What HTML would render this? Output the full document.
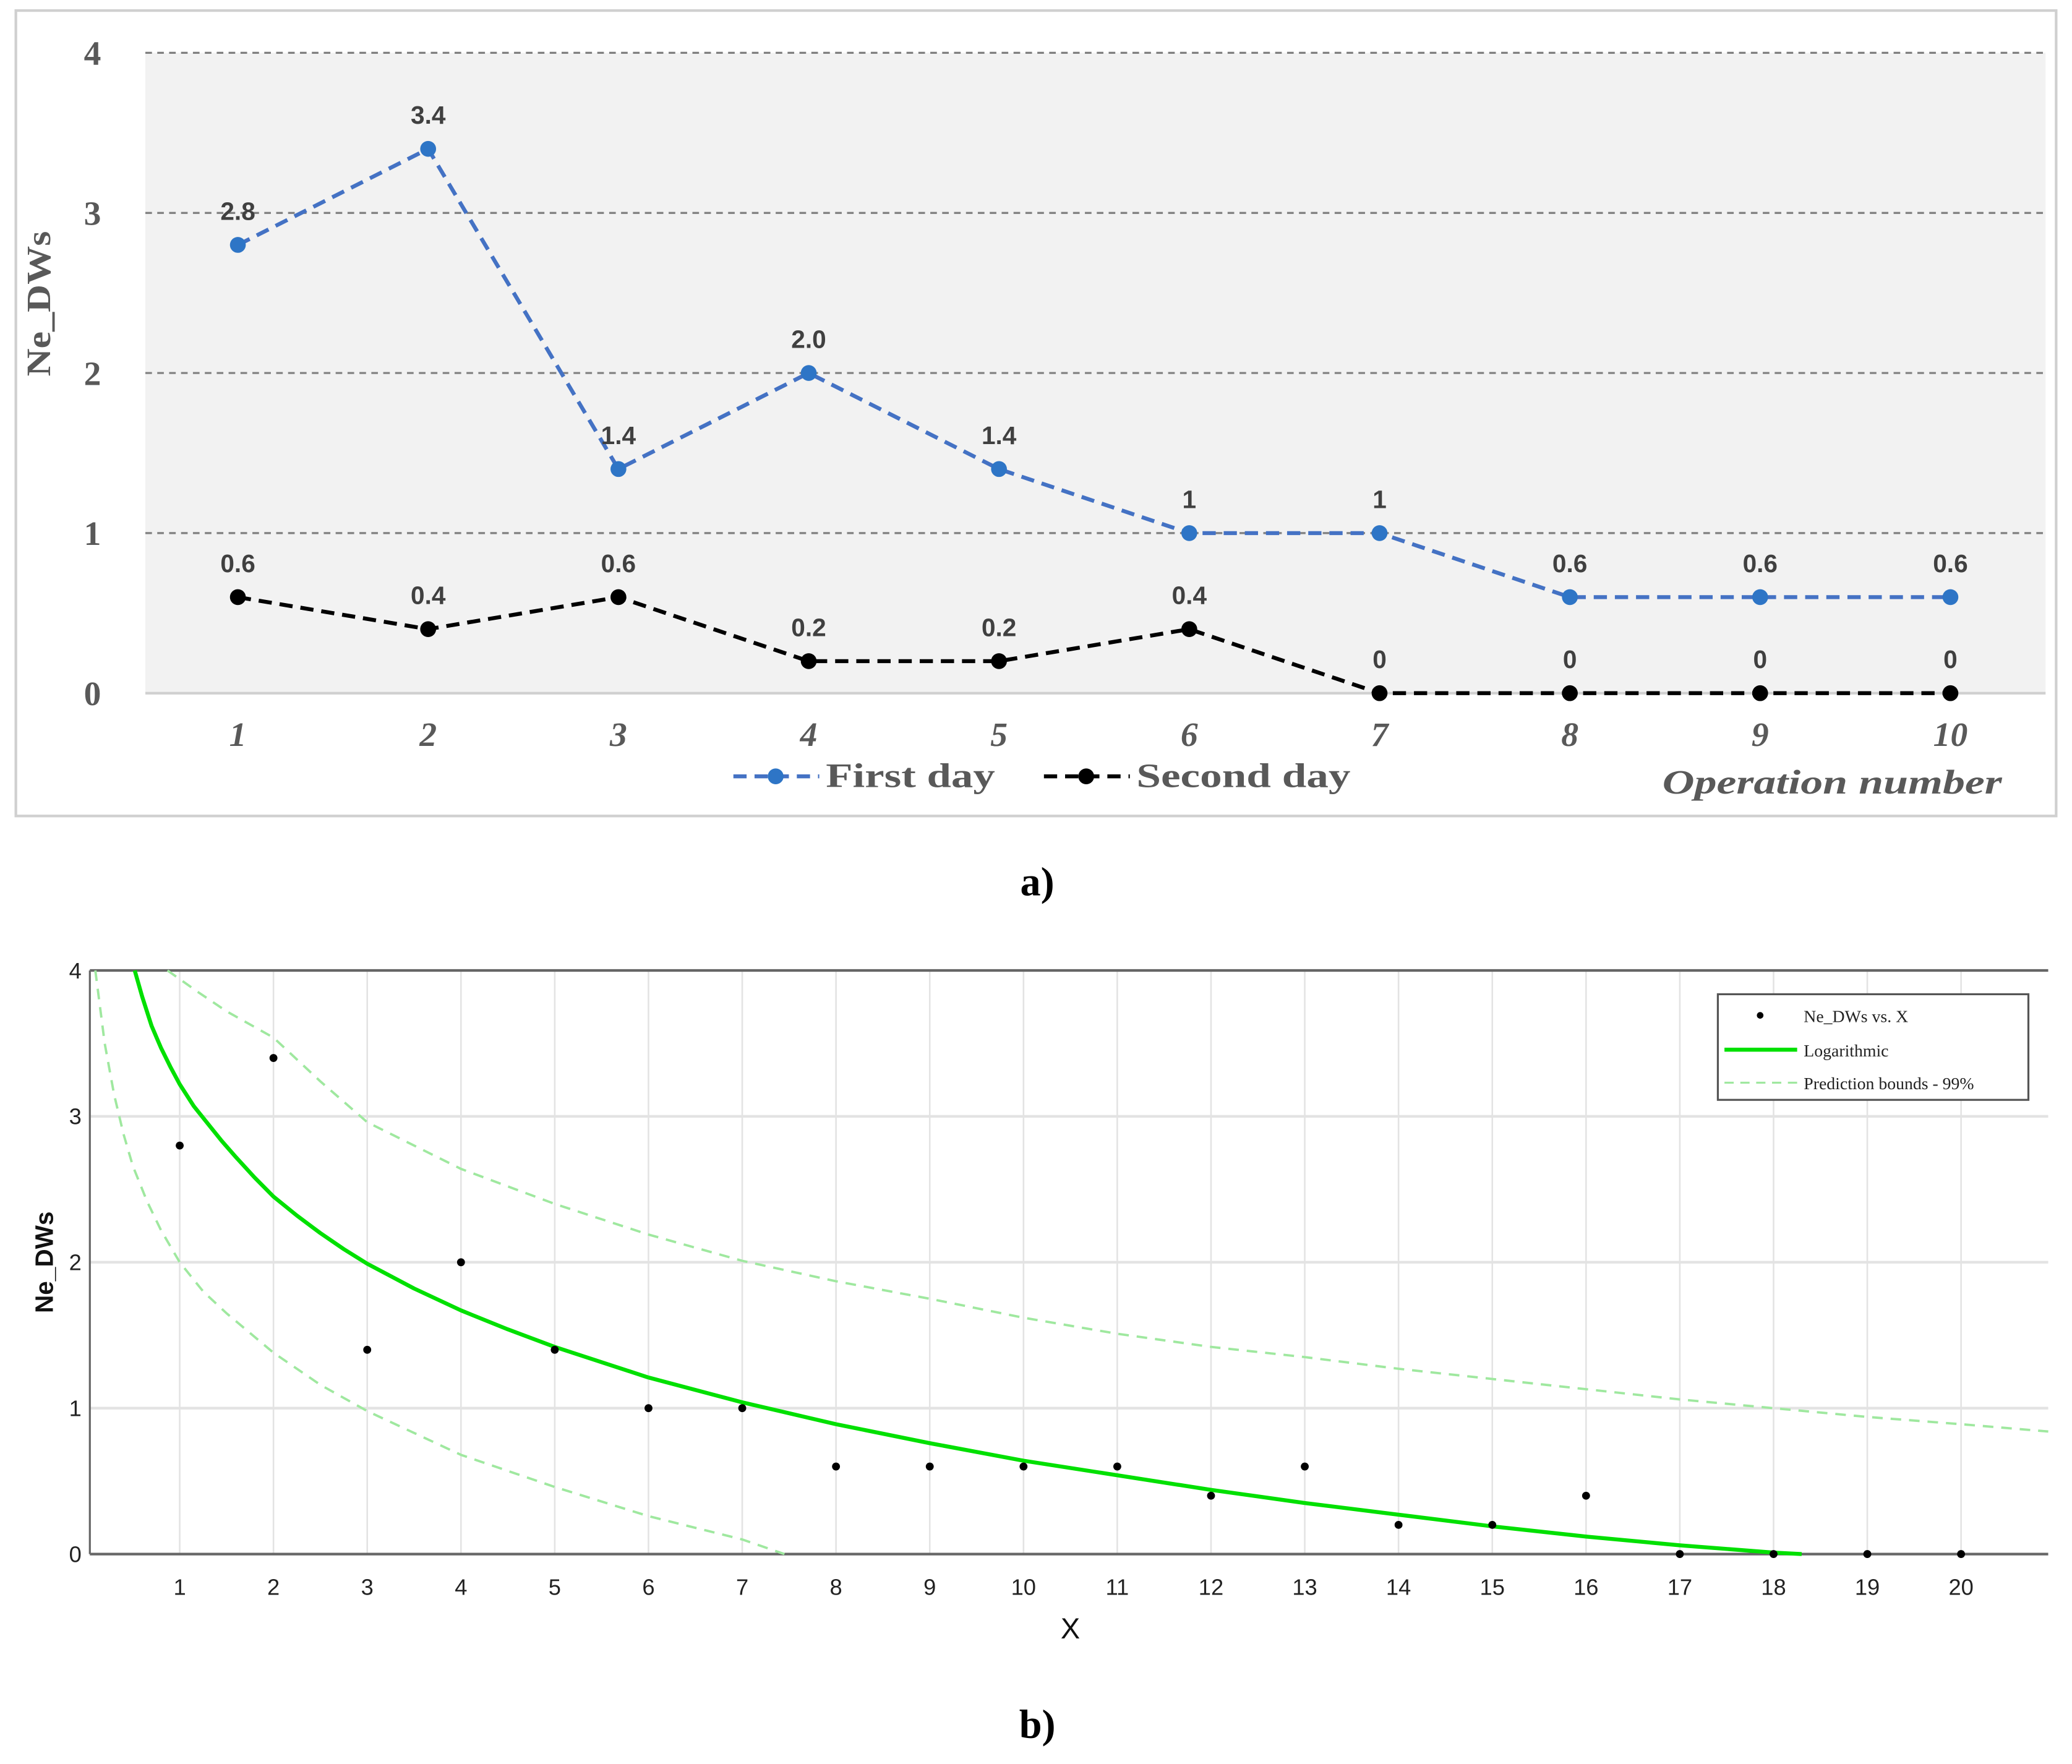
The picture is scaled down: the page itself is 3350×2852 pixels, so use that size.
<!DOCTYPE html>
<html><head><meta charset="utf-8"><style>html,body{margin:0;padding:0;background:#fff}svg{display:block}</style></head>
<body>
<svg id="fig" width="3350" height="2852" viewBox="0 0 1568 1336" preserveAspectRatio="none" xmlns="http://www.w3.org/2000/svg">
<g id="chartA">
<rect x="12" y="8" width="1544" height="610" fill="#fff" stroke="#d0d0d0" stroke-width="2"/>
<rect x="110" y="40" width="1438" height="485" fill="#f2f2f2"/>
<g id="gridA"></g>
<g id="seriesA"></g>
<text x="38" y="230" transform="rotate(-90 38 230)" text-anchor="middle" textLength="110" lengthAdjust="spacingAndGlyphs" font-family="Liberation Serif, serif" font-weight="bold" font-size="26" fill="#595959">Ne_DWs</text>
<g>
<line x1="555" y1="588" x2="620" y2="588" stroke="#4472c4" stroke-width="3" stroke-dasharray="10,6"/>
<circle cx="587" cy="588" r="6" fill="#2e75c6"/>
<text x="625" y="596" textLength="128" lengthAdjust="spacingAndGlyphs" font-family="Liberation Serif, serif" font-weight="bold" font-size="26" fill="#595959">First day</text>
<line x1="790" y1="588" x2="855" y2="588" stroke="#000" stroke-width="3" stroke-dasharray="10,6"/>
<circle cx="822" cy="588" r="6" fill="#000"/>
<text x="860" y="596" textLength="162" lengthAdjust="spacingAndGlyphs" font-family="Liberation Serif, serif" font-weight="bold" font-size="26" fill="#595959">Second day</text>
</g>
<text x="1258" y="601" textLength="257" lengthAdjust="spacingAndGlyphs" font-family="Liberation Serif, serif" font-style="italic" font-weight="bold" font-size="26" fill="#595959">Operation number</text>
</g>
<text x="785" y="678" text-anchor="middle" font-family="Liberation Serif, serif" font-weight="bold" font-size="31" fill="#000">a)</text>

<g id="chartB">
<rect x="68" y="735" width="1482" height="442" fill="#fff"/>
<g id="gridB"></g>
<g id="seriesB"></g>
<text x="40" y="956" transform="rotate(-90 40 956)" text-anchor="middle" font-family="Liberation Sans, sans-serif" font-weight="bold" font-size="19" fill="#111">Ne_DWs</text>
<text x="810" y="1241" text-anchor="middle" font-family="Liberation Sans, sans-serif" font-size="22" fill="#111">X</text>
<g>
<rect x="1300" y="753" width="235" height="80" fill="#fff" stroke="#555" stroke-width="1.5"/>
<circle cx="1332" cy="769" r="2.5" fill="#000"/>
<text x="1365" y="774" font-family="Liberation Serif, serif" font-size="13" fill="#222">Ne_DWs vs. X</text>
<line x1="1305" y1="795" x2="1360" y2="795" stroke="#00e000" stroke-width="3"/>
<text x="1365" y="800" font-family="Liberation Serif, serif" font-size="13" fill="#222">Logarithmic</text>
<line x1="1305" y1="820" x2="1360" y2="820" stroke="#9fe89f" stroke-width="1.5" stroke-dasharray="7,5"/>
<text x="1365" y="825" font-family="Liberation Serif, serif" font-size="13" fill="#222">Prediction bounds - 99%</text>
</g>
</g>
<text x="785" y="1316" text-anchor="middle" font-family="Liberation Serif, serif" font-weight="bold" font-size="31" fill="#000">b)</text>
</svg>
<script>
// ---- chart a data ----
const opCats = [1,2,3,4,5,6,7,8,9,10];
const firstDay = [2.8,3.4,1.4,2.0,1.4,1,1,0.6,0.6,0.6];
const firstDayLabels = ["2.8","3.4","1.4","2.0","1.4","1","1","0.6","0.6","0.6"];
const secondDay = [0.6,0.4,0.6,0.2,0.2,0.4,0,0,0,0];
const secondDayLabels = ["0.6","0.4","0.6","0.2","0.2","0.4","0","0","0","0"];
const yTicksA = [0,1,2,3,4];
// ---- chart b data ----
const scatterX = [1,2,3,4,5,6,7,8,9,10,11,12,13,14,15,16,17,18,19,20];
const scatterY = [2.8,3.4,1.4,2.0,1.4,1,1,0.6,0.6,0.6,0.6,0.4,0.6,0.2,0.2,0.4,0,0,0,0];
const fitX = [0.52,0.6,0.7,0.8,0.9,1,1.15,1.3,1.45,1.6,1.8,2,2.25,2.5,2.75,3,3.5,4,4.5,5,6,7,8,9,10,11,12,13,14,15,16,17,18,18.3];
const fitY = [4,3.82,3.62,3.47,3.34,3.22,3.07,2.95,2.83,2.72,2.58,2.45,2.32,2.2,2.09,1.99,1.82,1.67,1.54,1.42,1.21,1.04,0.89,0.76,0.64,0.54,0.44,0.35,0.27,0.19,0.12,0.06,0.01,0];
const upX = [0.87,1.2,1.5,2,2.5,3,4,5,6,7,8,9,10,11,12,13,14,15,16,17,18,19,20,20.93];
const upY = [4,3.85,3.72,3.54,3.24,2.96,2.64,2.4,2.19,2.01,1.87,1.75,1.62,1.51,1.42,1.35,1.27,1.2,1.13,1.06,1.0,0.94,0.89,0.84];
const loX = [0.1,0.2,0.3,0.4,0.5,0.65,0.8,1,1.25,1.5,2,2.5,3,4,5,6,7,7.45];
const loY = [4,3.5,3.15,2.88,2.66,2.42,2.22,2.0,1.8,1.65,1.38,1.16,0.98,0.68,0.46,0.26,0.1,0];
const yTicksB = [0,1,2,3,4];
const xTicksB = [1,2,3,4,5,6,7,8,9,10,11,12,13,14,15,16,17,18,19,20];

const NS = "http://www.w3.org/2000/svg";
function mk(tag, attrs, parent, txt){const e=document.createElementNS(NS,tag);for(const k in attrs)e.setAttribute(k,attrs[k]);if(txt!==undefined)e.textContent=txt;parent.appendChild(e);return e;}

const xA = v => 180 + (v-1)*144;
const yA = v => 525 - v*121.25;
const gA = document.getElementById('gridA');
yTicksA.forEach(t=>{
  const l = mk('line',{x1:110,x2:1548,y1:yA(t),y2:yA(t),stroke:t===0?'#d0d0d0':'#7f7f7f','stroke-width':t===0?2:1.5,'stroke-dasharray':t===0?'none':'5,4'},gA);
  
  
  const tx = mk('text',{x:70,y:yA(t)+9,'text-anchor':'middle','font-family':'Liberation Serif, serif','font-weight':'bold','font-size':26,fill:'#595959'},gA,String(t));
  
  
});
opCats.forEach(c=>{
  const tx = mk('text',{x:xA(c),y:565,'text-anchor':'middle','font-family':'Liberation Serif, serif','font-style':'italic','font-weight':'bold','font-size':26,fill:'#595959'},gA,String(c));
  
  
});
const sA = document.getElementById('seriesA');
function seriesA(vals, labels, color, mcolor, name){
  const pts = vals.map((v,i)=>xA(opCats[i])+','+yA(v)).join(' ');
  const pl = mk('polyline',{points:pts,fill:'none',stroke:color,'stroke-width':3,'stroke-dasharray':'10,6'},sA);
  
  
  vals.forEach((v,i)=>{
    const c = mk('circle',{cx:xA(opCats[i]),cy:yA(v),r:6,fill:mcolor},sA);
    
    
    const t = mk('text',{x:xA(opCats[i]),y:yA(v)-19,'text-anchor':'middle','font-family':'Liberation Sans, sans-serif','font-weight':'bold','font-size':19,fill:'#404040'},sA,labels[i]);
    
    
  });
}
seriesA(firstDay, firstDayLabels, '#4472c4', '#2e75c6', 'first-day');
seriesA(secondDay, secondDayLabels, '#000', '#000', 'second-day');

const xB = v => 136 + (v-1)*70.95;
const yB = v => 1177 - v*110.5;
const gB = document.getElementById('gridB');
xTicksB.forEach(t=>{
  const l = mk('line',{x1:xB(t),x2:xB(t),y1:735,y2:1177,stroke:'#e3e3e3','stroke-width':1.2},gB);
  
  
  const tx = mk('text',{x:xB(t),y:1208,'text-anchor':'middle','font-family':'Liberation Sans, sans-serif','font-size':17,fill:'#222'},gB,String(t));
  
  
});
yTicksB.forEach(t=>{
  const l = mk('line',{x1:68,x2:1550,y1:yB(t),y2:yB(t),stroke:(t===0||t===4)?'#666':'#e3e3e3','stroke-width':2},gB);
  
  
  const tx = mk('text',{x:57,y:yB(t)+6,'text-anchor':'middle','font-family':'Liberation Sans, sans-serif','font-size':17,fill:'#222'},gB,String(t));
  
  
});
const ax = mk('line',{x1:68,x2:68,y1:735,y2:1177,stroke:'#666','stroke-width':1.5},gB);


const sB = document.getElementById('seriesB');
function poly(xs, ys, attrs, name){
  const p = mk('polyline',Object.assign({points:xs.map((x,i)=>xB(x)+','+yB(ys[i])).join(' '),fill:'none'},attrs),sB);
  
  
}
poly(upX, upY, {stroke:'#9fe89f','stroke-width':1.8,'stroke-dasharray':'8,6'}, 'upper-prediction-bound');
poly(loX, loY, {stroke:'#9fe89f','stroke-width':1.8,'stroke-dasharray':'8,6'}, 'lower-prediction-bound');
poly(fitX, fitY, {stroke:'#00e000','stroke-width':3,'stroke-linejoin':'round'}, 'logarithmic-fit');
scatterX.forEach((x,i)=>{
  const c = mk('circle',{cx:xB(x),cy:yB(scatterY[i]),r:3,fill:'#000'},sB);
  
  
});
</script>
</body></html>
